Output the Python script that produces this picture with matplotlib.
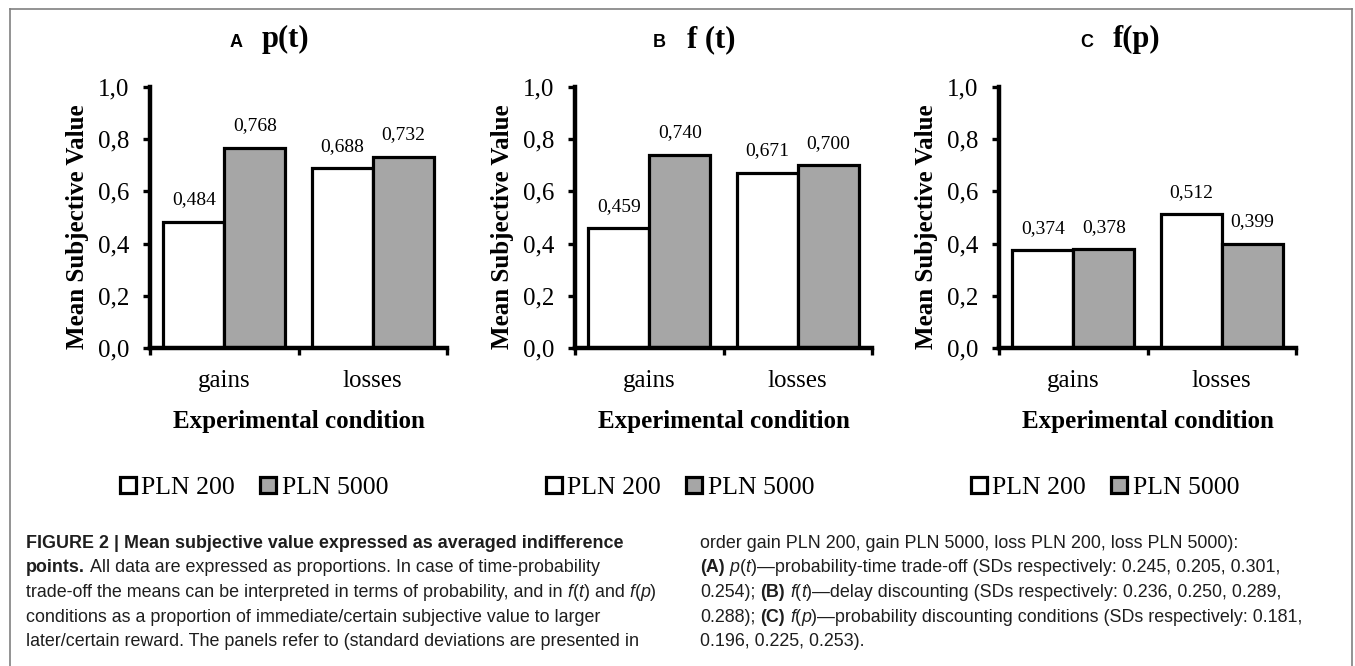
import numpy as np
import matplotlib
matplotlib.use("Agg")
import matplotlib.pyplot as plt
from matplotlib.lines import Line2D
from matplotlib.font_manager import FontProperties

# ---------------- data ----------------
categories = ["gains", "losses"]
series_names = ["PLN 200", "PLN 5000"]
panel_letters = ["A", "B", "C"]
panel_funcs = ["p(t)", "f (t)", "f(p)"]

pt_pln200 = [0.484, 0.688]
pt_pln5000 = [0.768, 0.732]
ft_pln200 = [0.459, 0.671]
ft_pln5000 = [0.740, 0.700]
fp_pln200 = [0.374, 0.512]
fp_pln5000 = [0.378, 0.399]

y_ticks = [0.0, 0.2, 0.4, 0.6, 0.8, 1.0]
y_tick_labels = ["0,0", "0,2", "0,4", "0,6", "0,8", "1,0"]
y_label = "Mean Subjective Value"
x_label = "Experimental condition"

caption_left = [
    [("FIGURE 2 | Mean subjective value expressed as averaged indifference", "bold", "normal")],
    [("points.", "bold", "normal"),
     (" All data are expressed as proportions. In case of time-probability", "normal", "normal")],
    [("trade-off the means can be interpreted in terms of probability, and in ", "normal", "normal"),
     ("f", "normal", "italic"), ("(", "normal", "normal"), ("t", "normal", "italic"),
     (") and ", "normal", "normal"), ("f", "normal", "italic"), ("(", "normal", "normal"),
     ("p", "normal", "italic"), (")", "normal", "normal")],
    [("conditions as a proportion of immediate/certain subjective value to larger", "normal", "normal")],
    [("later/certain reward. The panels refer to (standard deviations are presented in", "normal", "normal")],
]
caption_right = [
    [("order gain PLN 200, gain PLN 5000, loss PLN 200, loss PLN 5000):", "normal", "normal")],
    [("(A)", "bold", "normal"), (" ", "normal", "normal"), ("p", "normal", "italic"),
     ("(", "normal", "normal"), ("t", "normal", "italic"),
     (")\u2014probability-time trade-off (SDs respectively: 0.245, 0.205, 0.301,", "normal", "normal")],
    [("0.254); ", "normal", "normal"), ("(B)", "bold", "normal"), (" ", "normal", "normal"),
     ("f", "normal", "italic"), ("(", "normal", "normal"), ("t", "normal", "italic"),
     (")\u2014delay discounting (SDs respectively: 0.236, 0.250, 0.289,", "normal", "normal")],
    [("0.288); ", "normal", "normal"), ("(C)", "bold", "normal"), (" ", "normal", "normal"),
     ("f", "normal", "italic"), ("(", "normal", "normal"), ("p", "normal", "italic"),
     (")\u2014probability discounting conditions (SDs respectively: 0.181,", "normal", "normal")],
    [("0.196, 0.225, 0.253).", "normal", "normal")],
]

# ---------------- layout / style ----------------
W, H = 1355, 666
SERIF = ["Liberation Serif", "DejaVu Serif"]
SANS = ["Liberation Sans", "DejaVu Sans"]
GRAY = "#a6a6a6"

fig = plt.figure(figsize=(W / 100, H / 100), dpi=100)
fig.patch.set_facecolor("white")

panels = [
    (pt_pln200, pt_pln5000),
    (ft_pln200, ft_pln5000),
    (fp_pln200, fp_pln5000),
]
axes_left_px = [150, 575, 999]
ax_w_px, ax_top_px, ax_bot_px = 297, 87, 348
title_letter_x = [230, 653, 1080]
title_func_x = [262, 687, 1113]
legend_cx = [254, 680, 1105]

bar_w = 0.41
for i, (v200, v5000) in enumerate(panels):
    left = axes_left_px[i]
    ax = fig.add_axes([left / W, 1 - ax_bot_px / H, ax_w_px / W, (ax_bot_px - ax_top_px) / H])
    xc = np.arange(len(categories)) + 0.5
    b1 = ax.bar(xc - bar_w / 2, v200, bar_w, color="white", edgecolor="black", linewidth=2.3)
    b2 = ax.bar(xc + bar_w / 2, v5000, bar_w, color=GRAY, edgecolor="black", linewidth=2.3)
    for bars, vals in ((b1, v200), (b2, v5000)):
        for rect, v in zip(bars, vals):
            ax.annotate(f"{v:.3f}".replace(".", ","),
                        xy=(rect.get_x() + rect.get_width() / 2, v),
                        xytext=(0, 12.5), textcoords="offset points",
                        ha="center", va="baseline", fontsize=14, family=SERIF)
    ax.set_xlim(0, len(categories))
    ax.set_ylim(0, 1)
    for s in ("top", "right"):
        ax.spines[s].set_visible(False)
    for s in ("left", "bottom"):
        ax.spines[s].set_linewidth(3.2)
    ax.set_yticks(y_ticks)
    ax.set_yticklabels(y_tick_labels, fontsize=18, family=SERIF)
    ax.tick_params(axis="y", direction="out", length=5, width=2.4, pad=10)
    ax.set_xticks(np.arange(len(categories) + 1))
    ax.set_xticklabels([])
    ax.tick_params(axis="x", which="major", direction="out", length=5, width=2.4)
    ax.set_xticks(xc, minor=True)
    ax.set_xticklabels(categories, minor=True, fontsize=18, family=SERIF)
    ax.tick_params(axis="x", which="minor", length=0, pad=16)
    ax.set_ylabel(y_label, fontsize=18, fontweight="bold", family=SERIF)
    ax.yaxis.set_label_coords(-0.205, 0.464)
    ax.set_xlabel(x_label, fontsize=18, fontweight="bold", family=SERIF)
    ax.xaxis.set_label_coords(0.5, -0.236)

    fig.text(title_letter_x[i] / W, 1 - 47 / H, panel_letters[i], fontsize=13,
             fontweight="bold", family=SANS, ha="left", va="baseline")
    fig.text(title_func_x[i] / W, 1 - 47 / H, panel_funcs[i], fontsize=22,
             fontweight="bold", family=SERIF, ha="left", va="baseline")

    fig.legend(handles=[b1, b2], labels=series_names, loc="center",
               bbox_to_anchor=(legend_cx[i] / W, 1 - 488 / H), ncol=2, frameon=False,
               prop=FontProperties(family=SERIF, size=18.5),
               handlelength=0.62, handleheight=0.62, handletextpad=0.2,
               columnspacing=1.0, borderpad=0, borderaxespad=0)

# ---------------- border ----------------
bc = "#808080"
fig.add_artist(Line2D([10 / W, 10 / W], [0, 1 - 9 / H], transform=fig.transFigure, color=bc, lw=1.2))
fig.add_artist(Line2D([1352 / W, 1352 / W], [0, 1 - 9 / H], transform=fig.transFigure, color=bc, lw=1.2))
fig.add_artist(Line2D([10 / W, 1352 / W], [1 - 9 / H, 1 - 9 / H], transform=fig.transFigure, color=bc, lw=1.2))

# ---------------- caption ----------------
renderer = fig.canvas.get_renderer()
CAP_SIZE = 12.9
CAP_COLOR = "#1e1e1e"


def space_width(fp):
    w1 = renderer.get_text_width_height_descent("a a", fp, ismath=False)[0]
    w2 = renderer.get_text_width_height_descent("aa", fp, ismath=False)[0]
    return w1 - w2


def draw_line(x_px, y_px, runs):
    for text, weight, style in runs:
        fp = FontProperties(family=SANS, weight=weight, style=style, size=CAP_SIZE)
        sw = space_width(fp)
        core = text.strip(" ")
        if not core:
            x_px += len(text) * sw
            continue
        lead = len(text) - len(text.lstrip(" "))
        trail = len(text) - len(text.rstrip(" "))
        x_px += lead * sw
        t = fig.text(x_px / W, 1 - y_px / H, core, fontproperties=fp, color=CAP_COLOR,
                     ha="left", va="baseline")
        x_px += t.get_window_extent(renderer).width
        x_px += trail * sw


baselines = [547.5, 572.3, 597.0, 621.8, 646.5]
for yb, runs in zip(baselines, caption_left):
    draw_line(26, yb, runs)
for yb, runs in zip(baselines, caption_right):
    draw_line(700, yb, runs)

fig.savefig("out.png", dpi=100)
